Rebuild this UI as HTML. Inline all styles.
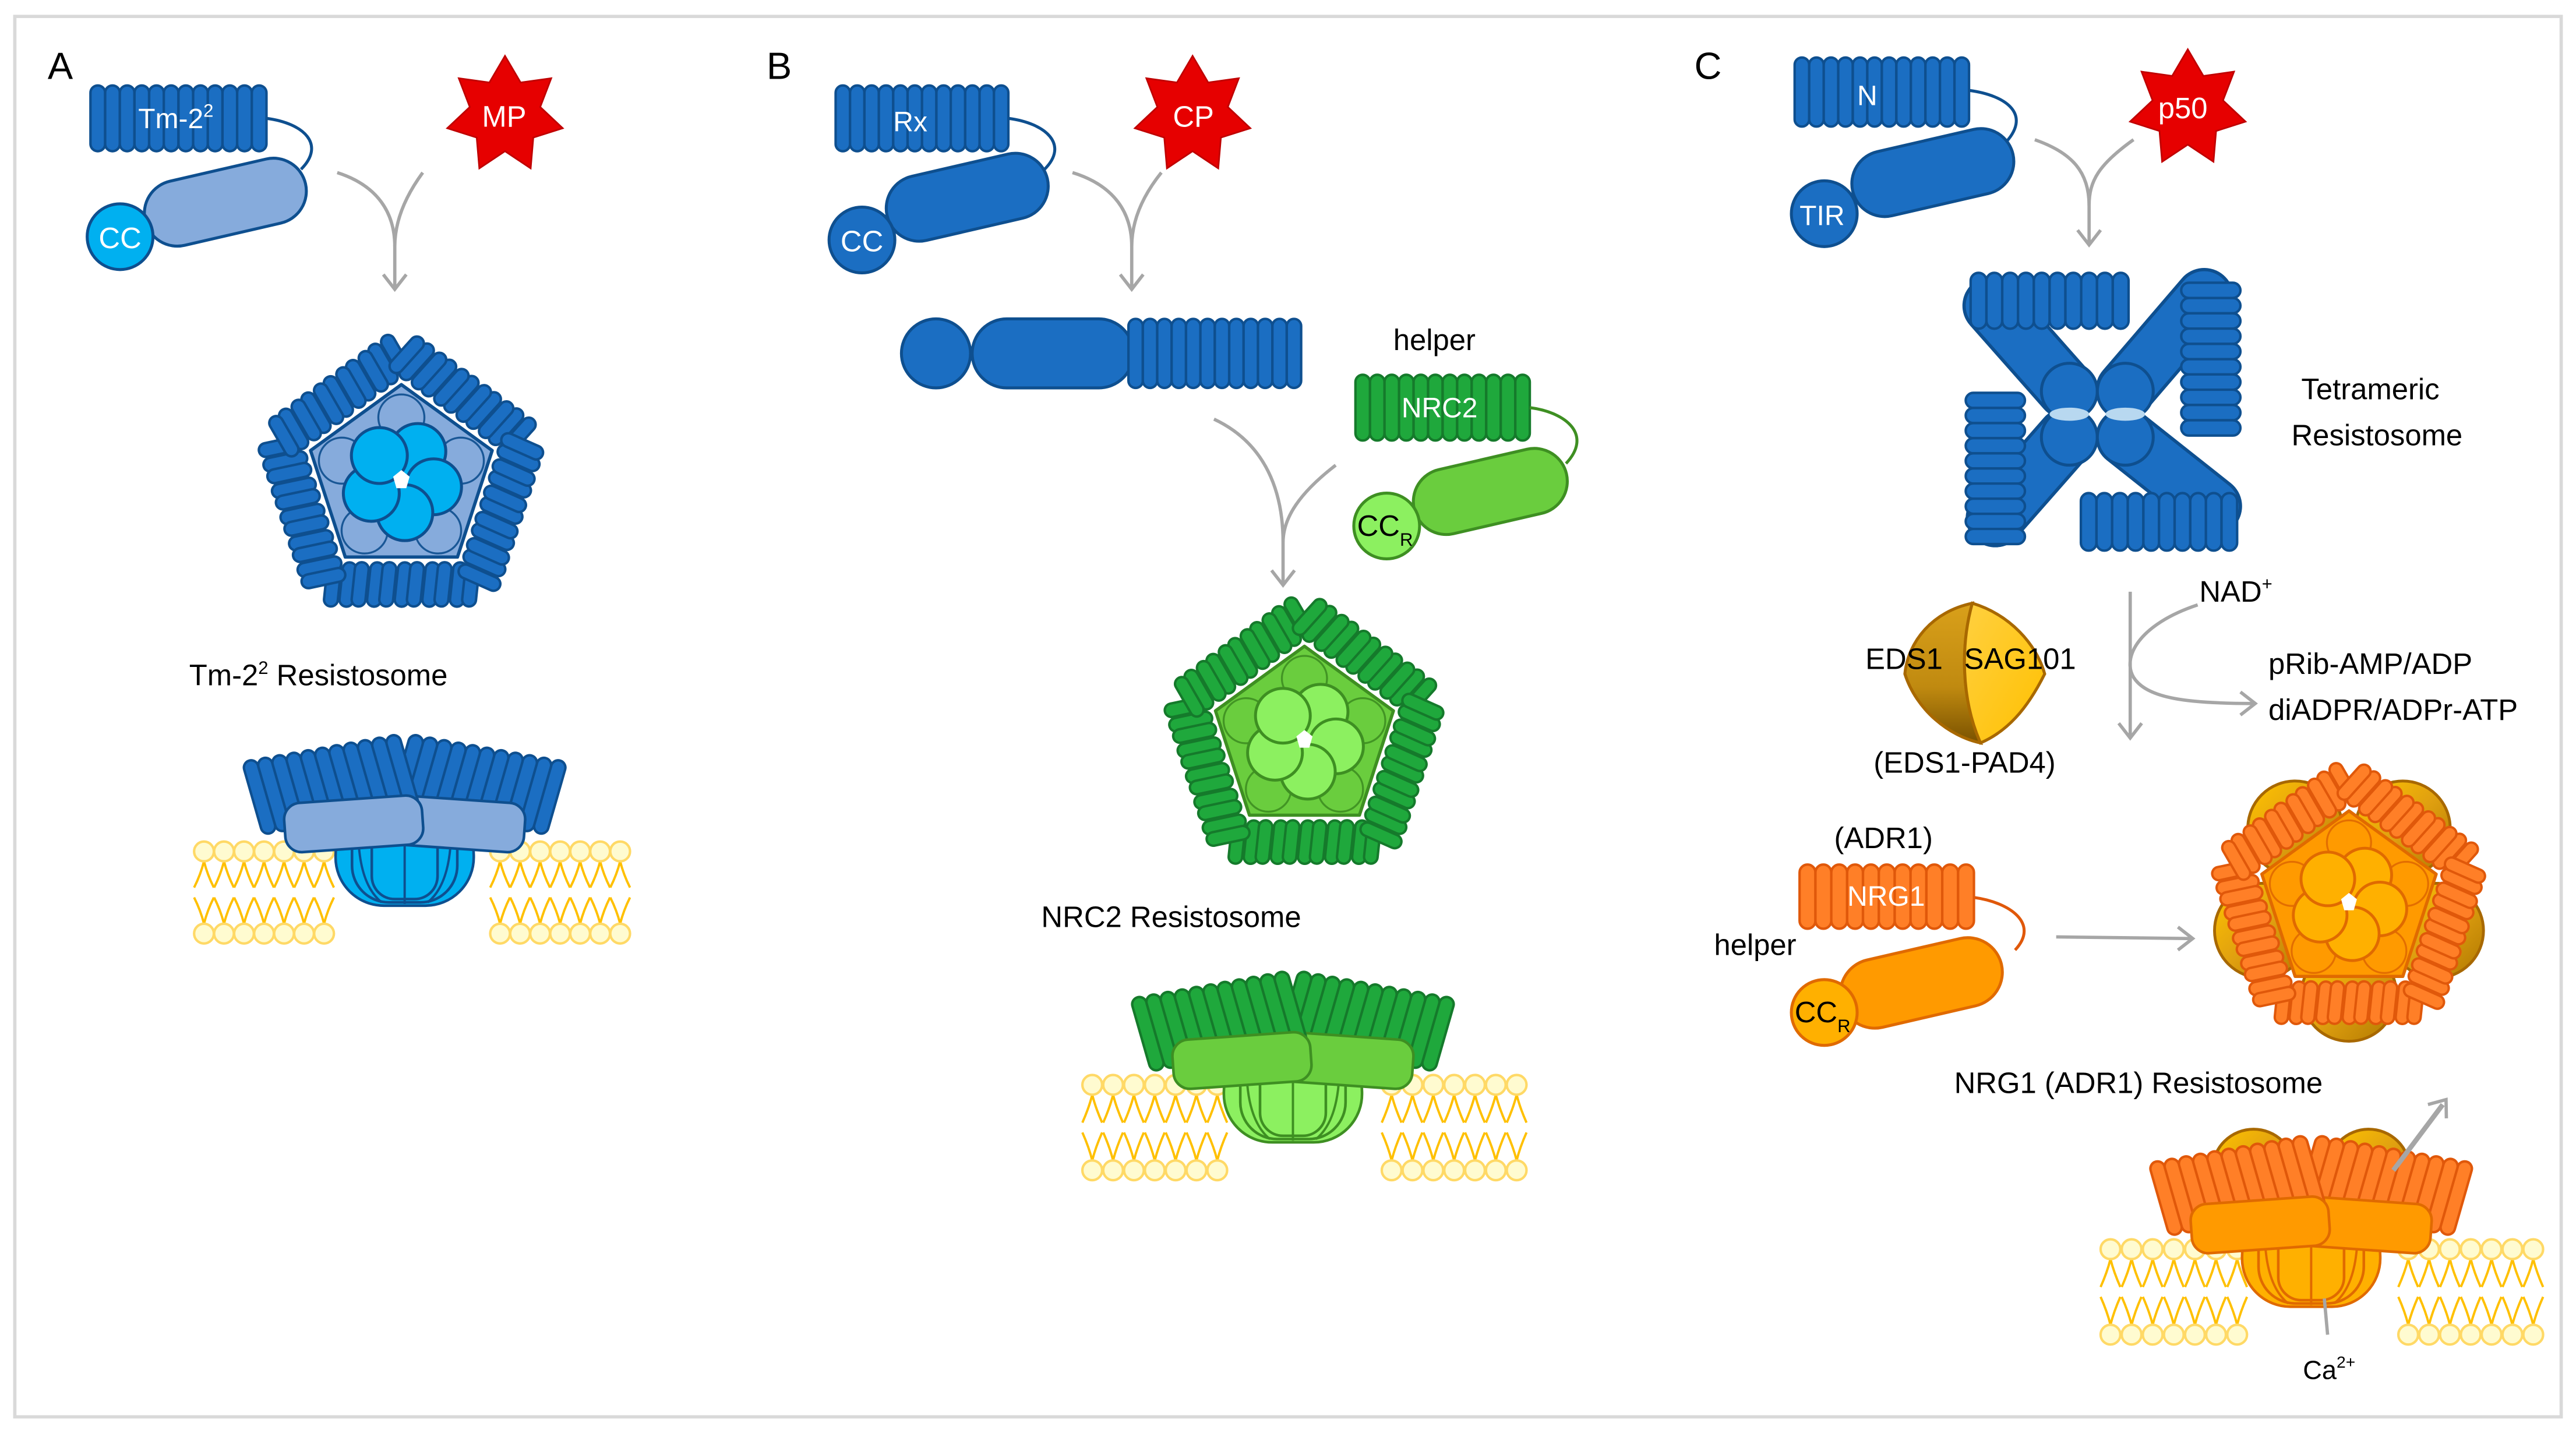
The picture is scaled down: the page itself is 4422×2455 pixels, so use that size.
<!DOCTYPE html>
<html><head><meta charset="utf-8">
<style>
html,body{margin:0;padding:0;background:#fff;}
svg{display:block;}
text{font-family:"Liberation Sans",sans-serif;}
</style></head>
<body>
<svg id="s" xmlns="http://www.w3.org/2000/svg" width="4422" height="2455" viewBox="0 0 1566 870" preserveAspectRatio="none">
<defs>
<linearGradient id="brn" x1="0" y1="0" x2="0" y2="1"><stop offset="0" stop-color="#d9a01a"/><stop offset="0.6" stop-color="#c08a10"/><stop offset="1" stop-color="#7a5200"/></linearGradient>
<linearGradient id="ylw" x1="0" y1="0" x2="1" y2="1"><stop offset="0" stop-color="#ffd040"/><stop offset="1" stop-color="#ffc000"/></linearGradient>
<linearGradient id="lobe" x1="0" y1="0" x2="1" y2="1"><stop offset="0" stop-color="#ffc400"/><stop offset="0.5" stop-color="#e0a010"/><stop offset="1" stop-color="#b07800"/></linearGradient>
</defs>
<rect x="9" y="10" width="1548" height="852" fill="#fff" stroke="#d9d9d9" stroke-width="2"/>
<g id="shapes"></g>
<g id="labels" font-size="19" fill="#000">
<text x="29" y="48" font-size="23">A</text>
<text x="466" y="48" font-size="23">B</text>
<text x="1030" y="48" font-size="23">C</text>
<text x="84" y="78" fill="#fff" font-size="17">Tm-2<tspan font-size="11" dy="-7">2</tspan></text>
<text x="60" y="151" fill="#fff" font-size="18">CC</text>
<text x="293" y="77" fill="#fff" font-size="18">MP</text>
<text x="115" y="417" font-size="18">Tm-2<tspan font-size="11" dy="-7">2</tspan><tspan dy="7"> Resistosome</tspan></text>
<text x="543" y="80" fill="#fff" font-size="17">Rx</text>
<text x="511" y="153" fill="#fff" font-size="18">CC</text>
<text x="713" y="77" fill="#fff" font-size="18">CP</text>
<text x="847" y="213" font-size="18">helper</text>
<text x="852" y="254" fill="#fff" font-size="17">NRC2</text>
<text x="825" y="326" font-size="18">CC<tspan font-size="11" dy="6">R</tspan></text>
<text x="633" y="564" font-size="18">NRC2 Resistosome</text>
<text x="1129" y="64" fill="#fff" font-size="17">N</text>
<text x="1094" y="137" fill="#fff" font-size="17">TIR</text>
<text x="1312" y="72" fill="#fff" font-size="18">p50</text>
<text x="1399" y="243" font-size="18">Tetrameric</text>
<text x="1393" y="271" font-size="18">Resistosome</text>
<text x="1337" y="366" font-size="18">NAD<tspan font-size="11" dy="-7">+</tspan></text>
<text x="1379" y="410" font-size="18">pRib-AMP/ADP</text>
<text x="1379" y="438" font-size="18">diADPR/ADPr-ATP</text>
<text x="1134" y="407" font-size="18">EDS1</text>
<text x="1194" y="407" font-size="18">SAG101</text>
<text x="1139" y="470" font-size="18">(EDS1-PAD4)</text>
<text x="1115" y="516" font-size="18">(ADR1)</text>
<text x="1123" y="551" fill="#fff" font-size="17">NRG1</text>
<text x="1042" y="581" font-size="18">helper</text>
<text x="1091" y="622" font-size="18">CC<tspan font-size="11" dy="6">R</tspan></text>
<text x="1188" y="665" font-size="18">NRG1 (ADR1) Resistosome</text>
<text x="1400" y="839" font-size="16">Ca<tspan font-size="10" dy="-7">2+</tspan></text>
</g>
</svg>
<script>
(function(){
var NS='http://www.w3.org/2000/svg';
var root=document.getElementById('shapes');
function E(p,t,a){var e=document.createElementNS(NS,t);for(var k in a)e.setAttribute(k,a[k]);p.appendChild(e);return e;}
function G(p,tr){return E(p,'g',tr?{transform:tr}:{});}
var BL={f:'#1b6ec2',s:'#0e4f8f'}, LB={f:'#86abdc',s:'#0e4f8f'}, CY={f:'#00b0f0',s:'#0e4f8f'};
var GR={f:'#1fa83c',s:'#157a2b'}, LG={f:'#6acd3e',s:'#3e8f22'}, GC={f:'#8cf060',s:'#3e8f22'};
var OR={f:'#ff7f27',s:'#e0580a'}, OB={f:'#ff9a00',s:'#e06a00'}, OC={f:'#ffb000',s:'#e06a00'};
function lrrRow(p,x0,y0,x1,y1,n,c){var st=(x1-x0)/n;for(var i=0;i<n;i++)E(p,'rect',{x:x0+i*st,y:y0,width:st,height:y1-y0,rx:st/2,fill:c.f,stroke:c.s,'stroke-width':1.5});}
function lrrCol(p,x0,y0,x1,y1,n,c){var st=(y1-y0)/n;for(var i=0;i<n;i++)E(p,'rect',{x:x0,y:y0+i*st,width:x1-x0,height:st,rx:st/2,fill:c.f,stroke:c.s,'stroke-width':1.5});}
function pill(p,cx,cy,L,H,ang,c){E(p,'rect',{x:cx-L/2,y:cy-H/2,width:L,height:H,rx:H/2,fill:c.f,stroke:c.s,'stroke-width':1.8,transform:'rotate('+ang+' '+cx+' '+cy+')'});}
function circ(p,cx,cy,r,c){E(p,'circle',{cx:cx,cy:cy,r:r,fill:c.f,stroke:c.s,'stroke-width':1.8});}
function loop(p,d,col){E(p,'path',{d:d,fill:'none',stroke:col,'stroke-width':1.8});}
function star(p,cx,cy,R,r){var pts=[];for(var i=0;i<14;i++){var a=-Math.PI/2+i*Math.PI/7;var rr=i%2?r:R;pts.push((cx+rr*Math.cos(a)).toFixed(1)+','+(cy+rr*Math.sin(a)).toFixed(1));}E(p,'polygon',{points:pts.join(' '),fill:'#e60000',stroke:'#c00000','stroke-width':1});}
function arrowHead(p,x,y,dx,dy){var L=Math.hypot(dx,dy);dx/=L;dy/=L;var px=-dy,py=dx;E(p,'path',{d:'M'+(x-dx*9+px*7)+','+(y-dy*9+py*7)+' L'+x+','+y+' L'+(x-dx*9-px*7)+','+(y-dy*9-py*7),fill:'none',stroke:'#a6a6a6','stroke-width':2});}
function merge(p,xl,yl,xr,yr,xm,ym,yend){E(p,'path',{d:'M'+xl+','+yl+' C'+(xm-10)+','+(yl+8)+' '+xm+','+(ym-20)+' '+xm+','+ym+' L'+xm+','+yend,fill:'none',stroke:'#a6a6a6','stroke-width':2});E(p,'path',{d:'M'+xr+','+yr+' C'+(xm+6)+','+(yr+15)+' '+xm+','+(ym-15)+' '+xm+','+ym,fill:'none',stroke:'#a6a6a6','stroke-width':2});arrowHead(p,xm,yend,0,1);}
function pentagon(p,cx,cy,s,lrr,nb,cc,lobes){
  var g=G(p,'translate('+cx+','+cy+') scale('+s+')');
  if(lobes){for(var k=0;k<5;k++){var a=(-90+36+72*k)*Math.PI/180;E(g,'circle',{cx:58*Math.cos(a),cy:58*Math.sin(a),r:30,fill:'url(#lobe)',stroke:'#a86800','stroke-width':1.8});}}
  for(var k=0;k<5;k++){var gg=G(g,'rotate('+(72*k)+')');for(var i=0;i<11;i++){E(gg,'rect',{x:-46+i*8.4+(i%2?1:0),y:50,width:8.4,height:27,rx:4.2,fill:lrr.f,stroke:lrr.s,'stroke-width':1.5,transform:'rotate(6 '+(-42+i*8.4)+' 63)'});}}
  var pts=[];for(var k=0;k<5;k++){var a=(-90+72*k)*Math.PI/180;pts.push((58*Math.cos(a)).toFixed(1)+','+(58*Math.sin(a)).toFixed(1));}
  E(g,'polygon',{points:pts.join(' '),fill:nb.f,stroke:nb.s,'stroke-width':2,'stroke-linejoin':'round'});
  for(var k=0;k<5;k++){var a=(-90+72*k)*Math.PI/180;E(g,'circle',{cx:38*Math.cos(a),cy:38*Math.sin(a),r:14,fill:nb.f,stroke:nb.s,'stroke-width':1.2,opacity:0.9});}
  for(var k=0;k<5;k++){var a=(-60+72*k)*Math.PI/180;E(g,'circle',{cx:20*Math.cos(a),cy:20*Math.sin(a),r:17,fill:cc.f,stroke:cc.s,'stroke-width':1.8});}
  E(g,'polygon',{points:'0,-6 5,-2 3,5 -3,5 -5,-2',fill:'#fff'});
}
function lipids(p,x0,x1,yt,yb,n){var st=(x1-x0)/(n-1),ym=(yt+yb)/2;
  for(var i=0;i<n;i++){var x=x0+i*st;
    E(p,'path',{d:'M'+x+','+(yt+6)+' Q'+(x-2)+','+(yt+14)+' '+(x-6)+','+(ym-3)+' M'+x+','+(yt+6)+' Q'+(x+2)+','+(yt+14)+' '+(x+6)+','+(ym-3)+' M'+x+','+(yb-6)+' Q'+(x-2)+','+(yb-14)+' '+(x-6)+','+(ym+3)+' M'+x+','+(yb-6)+' Q'+(x+2)+','+(yb-14)+' '+(x+6)+','+(ym+3),fill:'none',stroke:'#ffc000','stroke-width':1.4});}
  for(var i=0;i<n;i++){var x=x0+i*st;E(p,'circle',{cx:x,cy:yt,r:6,fill:'#fffbd0',stroke:'#ffd966','stroke-width':1.5});E(p,'circle',{cx:x,cy:yb,r:6,fill:'#fffbd0',stroke:'#ffd966','stroke-width':1.5});}
}
function side(p,cx,top,lrr,nb,cc,lobes){
  var g=G(p,'translate('+cx+','+top+')');
  if(lobes){E(g,'circle',{cx:-35,cy:22,r:25,fill:'url(#lobe)',stroke:'#a86800','stroke-width':1.8});E(g,'circle',{cx:35,cy:22,r:25,fill:'url(#lobe)',stroke:'#a86800','stroke-width':1.8});}
  var bw=[42,32,20];for(var j=0;j<3;j++){E(g,'rect',{x:-bw[j],y:45,width:bw[j]*2,height:60-j*2,rx:bw[j]*0.7,fill:cc.f,stroke:cc.s,'stroke-width':1.6});}
  E(g,'path',{d:'M-28,50 Q-30,90 -14,103 M28,50 Q30,90 14,103 M0,50 L0,104',fill:'none',stroke:cc.s,'stroke-width':1.4});
  for(var sd=-1;sd<=1;sd+=2){var h=G(g,'scale('+sd+',1)');
    var hh=G(h,'rotate(-10)');
    for(var i=0;i<11;i++){var x=-98+i*8.8;E(hh,'rect',{x:x,y:0,width:8.8,height:46,rx:4.4,fill:lrr.f,stroke:lrr.s,'stroke-width':1.5,transform:'rotate(-6 '+(x+4)+' 23)'});}
    E(hh,'rect',{x:-82,y:34,width:84,height:30,rx:10,fill:nb.f,stroke:nb.s,'stroke-width':1.6,transform:'rotate(6 -40 48)'});
  }
}
var A=G(root);
lrrRow(A,55,52,162,92,12,BL);
loop(A,'M162,72 C185,75 198,88 183,103',BL.s);
pill(A,137,123,100,40,-13,LB);
circ(A,73,144,20,CY);
star(A,307,70,36,22);
merge(A,205,105,257,105,240,150,176);
pentagon(A,244,292,1,BL,LB,CY,false);
lipids(A,124,197,518,568,7);lipids(A,304,377,518,568,7);
side(A,246,446,BL,LB,CY,false);
lrrRow(A,508,52,613,92,12,BL);
loop(A,'M613,72 C636,75 650,88 635,103',BL.s);
pill(A,588,120,100,40,-13,BL);
circ(A,524,146,20,BL);
star(A,725,70,36,22);
merge(A,652,105,706,105,688,150,176);
circ(A,569,215,21,BL);
E(A,'rect',{x:591,y:194,width:98,height:42,rx:21,fill:BL.f,stroke:BL.s,'stroke-width':1.8});
lrrRow(A,686,194,791,236,12,BL);
lrrRow(A,824,228,930,268,12,GR);
loop(A,'M930,248 C953,251 968,265 952,282',LG.s);
pill(A,906,299,95,40,-13,LG);
circ(A,843,320,20,GC);
E(A,'path',{d:'M738,255 C770,270 780,300 780,330 L780,356 M812,283 C790,300 780,315 780,330',fill:'none',stroke:'#a6a6a6','stroke-width':2});
arrowHead(A,780,356,0,1);
pentagon(A,793,450,0.98,GR,LG,GC,false);
lipids(A,664,740,660,712,7);lipids(A,846,922,660,712,7);
side(A,786,590,GR,LG,GC,false);
lrrRow(A,1091,35,1197,77,12,BL);
loop(A,'M1197,55 C1220,58 1236,70 1218,88',BL.s);
pill(A,1175,105,100,40,-13,BL);
circ(A,1109,130,20,BL);
star(A,1330,66,36,22);
merge(A,1237,85,1297,85,1270,125,149);
var arms=[[1211,186,1256,237],[1340,181,1292,237],[1213,315,1256,266],[1345,308,1292,266]];
arms.forEach(function(a){E(A,'line',{x1:a[0],y1:a[1],x2:a[2],y2:a[3],stroke:BL.s,'stroke-width':36,'stroke-linecap':'round'});});
arms.forEach(function(a){E(A,'line',{x1:a[0],y1:a[1],x2:a[2],y2:a[3],stroke:BL.f,'stroke-width':32,'stroke-linecap':'round'});});
lrrRow(A,1198,166,1294,200,10,BL);
lrrCol(A,1326,172,1362,265,10,BL);
lrrCol(A,1195,239,1231,331,10,BL);
lrrRow(A,1265,300,1360,335,10,BL);
circ(A,1258,238,17,BL);circ(A,1292,238,17,BL);circ(A,1258,266,17,BL);circ(A,1292,266,17,BL);
E(A,'ellipse',{cx:1258,cy:252,rx:12,ry:4,fill:'#b8d8f0'});E(A,'ellipse',{cx:1292,cy:252,rx:12,ry:4,fill:'#b8d8f0'});
E(A,'path',{d:'M1295,360 L1295,448',fill:'none',stroke:'#a6a6a6','stroke-width':2});arrowHead(A,1295,449,0,1);
E(A,'path',{d:'M1336,368 C1300,380 1290,400 1297,412 C1305,425 1330,428 1370,428',fill:'none',stroke:'#a6a6a6','stroke-width':2});arrowHead(A,1371,428,1,0);
E(A,'path',{d:'M1199,367 C1175,372 1160,390 1158,410 C1165,432 1185,448 1204,452 C1192,425 1192,392 1199,367 Z',fill:'url(#brn)',stroke:'#a86800','stroke-width':1.8});
E(A,'path',{d:'M1199,367 C1222,374 1238,392 1243,410 C1232,432 1220,445 1204,452 C1192,425 1192,392 1199,367 Z',fill:'url(#ylw)',stroke:'#a86800','stroke-width':1.8});
lrrRow(A,1094,526,1200,565,11,OR);
loop(A,'M1200,546 C1222,549 1240,562 1225,578',OR.s);
pill(A,1168,598,100,42,-13,OB);
circ(A,1109,616,20,OC);
E(A,'path',{d:'M1250,570 L1332,571',fill:'none',stroke:'#a6a6a6','stroke-width':2});arrowHead(A,1333,571,1,0);
pentagon(A,1428,549,0.96,OR,OB,OC,true);
lipids(A,1283,1360,760,812,7);lipids(A,1464,1540,760,812,7);
side(A,1405,690,OR,OB,OC,true);
E(A,'path',{d:'M1455,712 L1485,672',fill:'none',stroke:'#a6a6a6','stroke-width':3});arrowHead(A,1487,669,0.6,-0.8);
E(A,'path',{d:'M1413,790 L1415,812',fill:'none',stroke:'#a6a6a6','stroke-width':2});
})();
</script>
</body></html>
